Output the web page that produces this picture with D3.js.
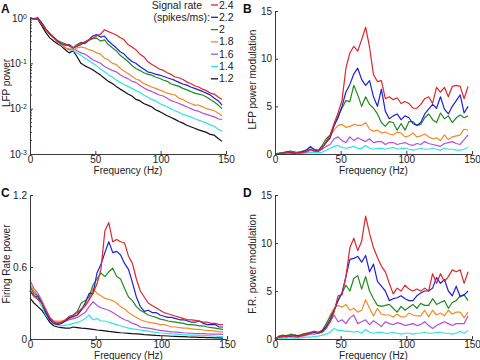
<!DOCTYPE html>
<html>
<head>
<meta charset="utf-8">
<script src="https://cdn.jsdelivr.net/npm/d3@7"></script>
<style>
  body { margin: 0; background: #fff; }
  svg { font-family: "Liberation Sans", Arial, Helvetica, sans-serif; }
</style>
</head>
<body>
<svg id="fig" width="480" height="360"></svg>
<script>
// frequency grid (Hz)
const freqs = [0,3,6,9,12,15,18,21,24,27,30,33,36,39,42,45,48,51,54,57,60,63,66,69,72,75,78,81,84,87,90,93,96,99,102,105,108,111,114,117,120,123,126,129,132,135,138,141,144,147];

const rates = ["2.4", "2.2", "2", "1.8", "1.6", "1.4", "1.2"];
const colors = ["#e0262a", "#1f1fdc", "#1f8a1f", "#f58a2a", "#b24fdc", "#2fe3ea", "#111111"];

// A: LFP power
const lfp24 = [1.0,0.95,0.97,0.72,0.55,0.44,0.37,0.30,0.27,0.26, 0.25,0.22,0.24,0.28,0.30,0.33,0.36,0.40,0.44,0.55, 0.50,0.46,0.42,0.37,0.33,0.26,0.23,0.20,0.16,0.14, 0.11,0.095,0.085,0.075,0.07,0.062,0.057,0.05,0.048,0.044, 0.039,0.036,0.032,0.03,0.027,0.025,0.022,0.021,0.018,0.016];
const lfp22 = [1.0,0.96,1.0,0.75,0.57,0.45,0.38,0.31,0.27,0.25, 0.26,0.22,0.24,0.26,0.29,0.33,0.40,0.43,0.38,0.40, 0.31,0.26,0.22,0.18,0.16,0.13,0.11,0.10,0.085,0.075, 0.065,0.062,0.058,0.055,0.052,0.048,0.045,0.042,0.038,0.035, 0.033,0.03,0.028,0.026,0.024,0.022,0.02,0.017,0.015,0.012];
const lfp20 = [1.0,0.95,0.97,0.78,0.58,0.46,0.38,0.32,0.29,0.27, 0.24,0.22,0.26,0.29,0.27,0.32,0.35,0.36,0.31,0.33, 0.26,0.22,0.19,0.15,0.13,0.11,0.09,0.077,0.07,0.062, 0.058,0.055,0.05,0.047,0.043,0.04,0.035,0.033,0.031,0.028, 0.026,0.024,0.022,0.021,0.02,0.018,0.016,0.014,0.012,0.01];
const lfp18 = [1.0,0.95,0.98,0.76,0.56,0.45,0.37,0.31,0.26,0.22, 0.21,0.20,0.22,0.23,0.22,0.20,0.19,0.17,0.16,0.13, 0.12,0.10,0.095,0.078,0.068,0.06,0.052,0.045,0.042,0.036, 0.033,0.03,0.028,0.026,0.024,0.022,0.021,0.02,0.017,0.016, 0.014,0.013,0.012,0.012,0.011,0.01,0.0095,0.009,0.008,0.007];
const lfp16 = [1.0,0.95,0.99,0.76,0.57,0.45,0.37,0.31,0.26,0.22, 0.20,0.21,0.19,0.17,0.16,0.14,0.12,0.11,0.10,0.085, 0.077,0.07,0.065,0.056,0.05,0.046,0.04,0.038,0.033,0.029, 0.026,0.024,0.022,0.02,0.019,0.017,0.015,0.014,0.013,0.012, 0.011,0.01,0.0092,0.0088,0.008,0.0075,0.007,0.0066,0.006,0.0057];
const lfp14 = [1.0,0.97,1.05,0.78,0.57,0.44,0.36,0.30,0.25,0.22, 0.20,0.19,0.17,0.15,0.13,0.115,0.10,0.088,0.075,0.065, 0.056,0.05,0.043,0.038,0.034,0.031,0.028,0.025,0.023,0.02, 0.018,0.016,0.015,0.013,0.012,0.011,0.0098,0.009,0.0083,0.0075, 0.007,0.0066,0.006,0.0056,0.0052,0.0048,0.0044,0.0041,0.0035,0.0032];
const lfp12 = [1.0,0.96,0.93,0.68,0.48,0.37,0.31,0.27,0.24,0.20, 0.17,0.19,0.14,0.10,0.088,0.08,0.072,0.063,0.055,0.047, 0.04,0.036,0.031,0.027,0.024,0.021,0.019,0.016,0.015,0.013, 0.012,0.011,0.0095,0.0087,0.0078,0.007,0.0064,0.0058,0.0052,0.0048, 0.0043,0.004,0.0037,0.0034,0.0032,0.003,0.0027,0.0026,0.0022,0.0019];

// B: LFP power modulation
const lfpMod24 = [0,0.05,0.1,0.15,0.25,0.2,0.1,0.15,0.3,0.5, 0.3,0.3,0.6,1.3,2.0,3.2,4.3,5.6,9.0,10.6, 11.3,10.8,12.0,13.3,11.2,8.3,7.6,7.7,5.8,6.0, 5.7,5.9,5.3,5.5,5.3,4.8,4.8,5.2,5.8,6.0, 5.3,7.0,6.5,7.0,6.0,7.1,7.2,7.1,5.8,7.1];
const lfpMod22 = [0,0.05,0.1,0.2,0.15,0.1,0.2,0.2,0.4,0.8, 0.4,0.3,0.7,1.2,1.7,3.0,3.8,5.0,6.5,7.3, 8.4,9.0,7.8,7.2,7.7,6.0,5.0,6.8,4.5,3.7, 4.0,4.2,3.6,4.0,3.8,3.2,3.0,3.3,4.2,4.7, 5.2,4.8,6.0,4.7,4.2,5.0,5.6,6.2,4.3,5.0];
const lfpMod20 = [0,0.1,0.15,0.25,0.3,0.2,0.15,0.3,0.45,0.7, 0.5,0.4,0.9,1.6,2.0,3.0,4.0,4.8,5.6,5.5, 7.2,6.2,5.0,6.0,5.2,4.8,4.2,3.3,2.9,3.4, 3.3,2.5,3.2,2.5,3.4,3.4,3.0,3.1,3.8,4.2, 3.6,3.3,4.3,3.7,4.0,3.3,3.8,4.1,3.8,4.0];
const lfpMod18 = [0,0.05,0.1,0.1,0.15,0.1,0.1,0.2,0.3,0.5, 0.3,0.3,0.7,1.3,1.9,2.5,3.0,3.1,2.8,2.9, 3.1,3.0,3.0,3.3,2.6,2.4,2.5,2.2,2.3,2.1, 2.0,2.3,2.2,1.8,1.9,2.2,1.8,1.9,2.1,1.8, 1.6,1.7,1.4,2.0,1.5,1.8,1.9,2.0,2.6,2.5];
const lfpMod16 = [0,0.05,0.1,0.1,0.1,0.1,0.1,0.15,0.2,0.4, 0.3,0.3,0.5,0.8,1.0,1.6,1.8,1.4,1.2,1.8, 1.4,1.7,1.5,1.3,1.6,1.2,1.3,1.3,1.0,1.2, 1.2,1.0,1.1,1.2,1.0,0.9,1.1,1.0,1.3,1.1, 1.0,0.9,0.8,1.1,1.2,1.3,1.1,1.0,1.5,2.0];
const lfpMod14 = [0,0.05,0.05,0.05,0.05,0.05,0.05,0.1,0.1,0.2, 0.15,0.15,0.2,0.4,0.6,0.8,0.9,0.7,0.6,0.7, 0.8,0.6,0.6,0.9,0.6,0.5,0.6,0.6,0.5,0.6, 0.7,0.5,0.6,0.6,0.5,0.4,0.5,0.6,0.5,0.5, 0.6,0.5,0.4,0.6,0.5,0.5,0.4,0.4,0.5,0.7];

// C: firing rate power
const fr24 = [0.41,0.36,0.33,0.30,0.24,0.18,0.14,0.13,0.14,0.16, 0.19,0.20,0.22,0.25,0.28,0.33,0.38,0.46,0.58,0.90, 0.97,0.81,0.83,0.81,0.80,0.69,0.63,0.50,0.40,0.35, 0.30,0.28,0.26,0.24,0.22,0.21,0.20,0.19,0.18,0.17, 0.16,0.16,0.155,0.15,0.14,0.14,0.13,0.13,0.12,0.12];
const fr22 = [0.40,0.36,0.35,0.30,0.22,0.16,0.13,0.12,0.13,0.15, 0.18,0.19,0.20,0.24,0.30,0.38,0.38,0.55,0.62,0.72, 0.81,0.72,0.73,0.70,0.63,0.58,0.47,0.35,0.27,0.23, 0.24,0.22,0.22,0.20,0.19,0.18,0.18,0.17,0.16,0.16, 0.15,0.14,0.14,0.15,0.13,0.12,0.12,0.12,0.10,0.10];
const fr20 = [0.44,0.38,0.36,0.30,0.22,0.17,0.14,0.13,0.14,0.15, 0.17,0.20,0.23,0.30,0.32,0.35,0.45,0.50,0.55,0.52, 0.56,0.59,0.52,0.50,0.42,0.35,0.32,0.27,0.24,0.22, 0.20,0.19,0.18,0.165,0.16,0.15,0.145,0.14,0.135,0.13, 0.12,0.12,0.115,0.11,0.11,0.10,0.095,0.09,0.085,0.08];
const fr18 = [0.46,0.40,0.36,0.31,0.24,0.18,0.15,0.15,0.15,0.16, 0.17,0.18,0.20,0.24,0.27,0.32,0.42,0.38,0.36,0.34, 0.33,0.32,0.30,0.27,0.25,0.22,0.20,0.18,0.16,0.15, 0.14,0.135,0.13,0.12,0.12,0.11,0.10,0.10,0.095,0.09, 0.09,0.085,0.08,0.08,0.075,0.07,0.07,0.065,0.06,0.06];
const fr16 = [0.49,0.42,0.38,0.32,0.25,0.18,0.15,0.14,0.14,0.15, 0.16,0.17,0.18,0.20,0.22,0.27,0.31,0.28,0.26,0.25, 0.24,0.22,0.20,0.18,0.16,0.15,0.13,0.12,0.10,0.095, 0.09,0.085,0.078,0.072,0.068,0.064,0.06,0.058,0.055,0.052, 0.05,0.048,0.046,0.045,0.044,0.042,0.041,0.04,0.04,0.038];
const fr14 = [0.40,0.35,0.33,0.27,0.20,0.16,0.13,0.12,0.11,0.115, 0.12,0.13,0.14,0.15,0.17,0.20,0.16,0.17,0.15,0.15, 0.14,0.13,0.12,0.11,0.10,0.09,0.085,0.08,0.075,0.07, 0.065,0.06,0.055,0.05,0.048,0.045,0.042,0.04,0.038,0.036, 0.035,0.033,0.032,0.03,0.029,0.028,0.026,0.025,0.022,0.02];
const fr12 = [0.34,0.30,0.27,0.24,0.19,0.14,0.11,0.10,0.095,0.09, 0.09,0.10,0.095,0.09,0.088,0.085,0.08,0.075,0.072,0.068, 0.063,0.06,0.056,0.052,0.05,0.047,0.044,0.042,0.04,0.037, 0.035,0.033,0.03,0.028,0.027,0.025,0.023,0.022,0.02,0.019, 0.017,0.016,0.015,0.014,0.013,0.012,0.011,0.01,0.009,0.008];

// D: F.R. power modulation
const frMod24 = [0,0.2,0.3,0.2,0.4,0.3,0.2,0.4,0.5,0.6, 0.8,0.6,0.7,1.1,1.8,2.8,4.5,4.6,6.5,9.5, 10.5,9.2,10.2,12.8,11.0,9.5,8.5,7.6,7.0,5.8, 4.7,5.3,5.0,5.6,5.2,5.0,5.2,5.0,5.3,5.0, 6.8,5.8,6.8,6.0,6.5,7.2,7.0,7.2,5.8,7.0];
const frMod22 = [0,0.2,0.3,0.3,0.3,0.4,0.3,0.4,0.5,0.6, 0.7,0.6,0.8,1.3,2.0,3.0,4.0,4.8,6.5,8.3, 8.4,8.6,8.0,8.7,7.0,7.8,6.0,5.5,5.0,4.0, 4.2,4.3,4.5,4.2,4.0,4.0,4.5,4.8,5.0,5.0, 5.3,6.4,5.8,6.2,5.0,4.5,5.5,4.4,4.6,5.0];
const frMod20 = [0,0.3,0.4,0.3,0.5,0.4,0.3,0.5,0.6,0.7, 0.8,0.7,0.9,1.6,2.3,3.0,4.0,4.8,5.6,5.0, 6.3,6.6,5.2,6.5,5.0,4.2,3.5,3.4,3.5,3.6, 3.2,2.8,3.4,3.0,3.3,3.6,3.2,3.7,3.5,3.5, 4.2,3.6,3.8,4.0,3.2,3.8,4.0,4.5,4.6,4.0];
const frMod18 = [0,0.3,0.3,0.4,0.4,0.3,0.4,0.5,0.6,0.7, 0.7,0.7,0.9,1.5,2.5,3.2,3.5,3.3,3.6,3.0, 3.2,2.8,3.0,4.1,3.2,2.4,3.2,2.6,2.5,2.5, 2.3,2.6,2.3,2.3,2.7,2.5,2.4,2.4,3.0,2.3, 3.0,2.5,2.7,2.4,3.0,2.6,2.8,2.8,2.2,2.8];
const frMod16 = [0,0.2,0.2,0.3,0.3,0.2,0.3,0.3,0.4,0.5, 0.5,0.6,0.8,1.2,1.8,2.5,1.8,2.0,1.6,2.2, 2.5,1.6,1.8,2.0,1.5,1.9,1.6,1.3,1.8,1.6, 1.5,1.7,1.6,1.4,1.5,1.6,1.4,1.5,1.8,1.4, 1.1,1.4,1.6,1.8,1.6,1.4,1.6,1.6,1.6,2.4];
const frMod14 = [0,0.1,0.1,0.1,0.15,0.1,0.1,0.15,0.2,0.2, 0.25,0.3,0.4,0.5,0.7,1.1,0.9,0.9,0.8,0.8, 0.7,0.8,0.6,1.0,0.7,0.6,0.7,0.7,0.6,0.6, 0.7,0.6,0.5,0.6,0.6,0.5,0.6,0.6,0.7,0.6, 0.6,0.7,0.7,0.6,0.6,0.5,0.6,0.8,0.6,0.9];

const svg = d3.select("#fig");
const FS = 10;

function series(arrays) {
  return arrays.map((v, i) => ({ rate: rates[i], color: colors[i], values: v }));
}

function drawPanel(opt) {
  const g = svg.append("g");
  const x = d3.scaleLinear().domain([0, 150]).range([opt.left, opt.right]);
  const y = opt.y;

  const line = d3.line()
    .x((d, i) => x(freqs[i]))
    .y(d => y(d));

  // draw lowest rate first so red ends on top
  g.selectAll("path.trace")
    .data(opt.series.slice().reverse())
    .join("path")
    .attr("class", "trace")
    .attr("d", d => line(d.values))
    .attr("fill", "none")
    .attr("stroke", d => d.color)
    .attr("stroke-width", 1.2)
    .attr("stroke-linejoin", "round");

  const xAxis = d3.axisBottom(x)
    .tickValues([0, 50, 100, 150])
    .tickSizeInner(-3)
    .tickSizeOuter(0)
    .tickPadding(2);
  const gx = g.append("g")
    .attr("transform", `translate(0,${opt.bottom})`)
    .call(xAxis);

  const yAxis = d3.axisLeft(y)
    .tickValues(opt.yTicks)
    .tickSizeInner(-3)
    .tickSizeOuter(0)
    .tickPadding(3);
  if (opt.yFormat) yAxis.tickFormat(opt.yFormat);
  const gy = g.append("g")
    .attr("transform", `translate(${opt.left},0)`)
    .call(yAxis);

  [gx, gy].forEach(a => {
    a.select(".domain").attr("stroke", "#3a3a3a");
    a.selectAll(".tick line").attr("stroke", "#3a3a3a");
    a.selectAll("text")
      .attr("fill", "#222")
      .style("font-size", FS + "px");
  });

  if (opt.log) {
    // superscript labels 10^n
    gy.selectAll(".tick text").each(function (d) {
      const t = d3.select(this).text(null);
      t.append("tspan").text("10");
      t.append("tspan")
        .attr("dy", "-0.45em")
        .style("font-size", "7px")
        .text(Math.round(Math.log10(d)));
    });
    // minor ticks
    const minor = [];
    [1e-3, 1e-2, 1e-1].forEach(dec => {
      for (let k = 2; k <= 9; k++) minor.push(dec * k);
    });
    gy.selectAll("line.minor")
      .data(minor)
      .join("line")
      .attr("class", "minor")
      .attr("x1", 0).attr("x2", 2)
      .attr("y1", d => y(d)).attr("y2", d => y(d))
      .attr("stroke", "#3a3a3a");
  }

  g.append("text")
    .attr("x", (opt.left + opt.right) / 2)
    .attr("y", opt.bottom + 20)
    .attr("text-anchor", "middle")
    .attr("fill", "#222")
    .style("font-size", FS + "px")
    .text("Frequency (Hz)");

  g.append("text")
    .attr("transform", `translate(${opt.labelX},${(opt.top + opt.bottom) / 2 - 3}) rotate(-90)`)
    .attr("text-anchor", "middle")
    .attr("fill", "#222")
    .style("font-size", FS + "px")
    .text(opt.yLabel);

  g.append("text")
    .attr("x", opt.letterX)
    .attr("y", opt.letterY)
    .attr("font-weight", "bold")
    .attr("fill", "#111")
    .style("font-size", "12px")
    .text(opt.letter);
}

drawPanel({
  letter: "A", letterX: 1, letterY: 13,
  left: 30, right: 226, top: 18, bottom: 154,
  y: d3.scaleLog().domain([1e-3, 1]).range([154, 18]),
  yTicks: [1e-3, 1e-2, 1e-1, 1], log: true,
  yLabel: "LFP power", labelX: 10,
  series: series([lfp24, lfp22, lfp20, lfp18, lfp16, lfp14, lfp12])
});

drawPanel({
  letter: "B", letterX: 243, letterY: 13,
  left: 275, right: 472, top: 11, bottom: 154,
  y: d3.scaleLinear().domain([0, 15]).range([154, 11]),
  yTicks: [0, 5, 10, 15], yFormat: d3.format("d"),
  yLabel: "LFP power modulation", labelX: 256,
  series: series([lfpMod24, lfpMod22, lfpMod20, lfpMod18, lfpMod16, lfpMod14])
});

drawPanel({
  letter: "C", letterX: 1, letterY: 197,
  left: 30, right: 227, top: 195, bottom: 339,
  y: d3.scaleLinear().domain([0, 1.2]).range([339, 195]),
  yTicks: [0, 0.6, 1.2], yFormat: d => d === 0 ? "0" : d3.format(".1f")(d),
  yLabel: "Firing Rate power", labelX: 10,
  series: series([fr24, fr22, fr20, fr18, fr16, fr14, fr12])
});

drawPanel({
  letter: "D", letterX: 243, letterY: 197,
  left: 275, right: 472, top: 195, bottom: 339,
  y: d3.scaleLinear().domain([0, 15]).range([339, 195]),
  yTicks: [0, 5, 10, 15], yFormat: d3.format("d"),
  yLabel: "F.R. power modulation", labelX: 256,
  series: series([frMod24, frMod22, frMod20, frMod18, frMod16, frMod14])
});

// legend in panel A
const legend = svg.append("g").style("font-size", "10.5px");
legend.append("text")
  .attr("x", 202).attr("y", 9)
  .attr("text-anchor", "end").attr("fill", "#222")
  .text("Signal rate");
legend.append("text")
  .attr("x", 210).attr("y", 21)
  .attr("text-anchor", "end").attr("fill", "#222")
  .text("(spikes/ms):");
const rows = legend.selectAll("g.row")
  .data(rates)
  .join("g")
  .attr("class", "row")
  .attr("transform", (d, i) => `translate(0,${5 + i * 12.3})`);
rows.append("line")
  .attr("x1", 211).attr("x2", 218)
  .attr("stroke", (d, i) => colors[i])
  .attr("stroke-width", 1.3);
rows.append("text")
  .attr("x", 219).attr("y", 3.5)
  .attr("fill", "#222")
  .text(d => d);
</script>
</body>
</html>
